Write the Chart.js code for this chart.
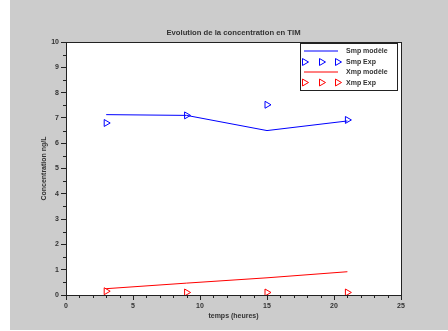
<!DOCTYPE html>
<html>
<head>
<meta charset="utf-8">
<script src="https://cdn.jsdelivr.net/npm/chart.js@4"></script>
<style>
  html, body { margin: 0; padding: 0; background: #fff; }
  #wrap { width: 448px; height: 331px; }
</style>
</head>
<body>
<div id="wrap"><canvas id="chart" width="448" height="331"></canvas></div>
<script>
// data
const temps = [3, 9, 15, 21];
const smpModele = [7.13, 7.1, 6.5, 6.88];
const smpExp = [6.8, 7.1, 7.52, 6.92];
const xmpModele = [0.25, 0.47, 0.68, 0.92];
const xmpExp = [0.15, 0.1, 0.1, 0.1];
const xTicks = [0, 5, 10, 15, 20, 25];
const yTicks = [0, 1, 2, 3, 4, 5, 6, 7, 8, 9, 10];
const legendLabels = ["Smp modèle", "Smp Exp", "Xmp modèle", "Xmp Exp"];

const FONT = "Liberation Sans";
const TXT = "#333333";
const BLUE = "#0000ff";
const RED = "#ff0000";

function pts(ys) {
    return temps.map((t, i) => ({ x: t, y: ys[i] }));
}

function marker(ctx, color, x, y) {
    ctx.save();
    ctx.strokeStyle = color;
    ctx.fillStyle = "rgba(0,0,0,0)";
    ctx.lineWidth = 1;
    Chart.helpers.drawPoint(ctx, { pointStyle: "triangle", rotation: 90, radius: 4, borderWidth: 1 }, x, y);
    ctx.restore();
}

const frame = {
    id: "frame",
    beforeDraw(chart) {
        const ctx = chart.ctx, a = chart.chartArea;
        ctx.save();
        ctx.fillStyle = "#cccccc";
        ctx.fillRect(10, 0, 438, 330);
        ctx.fillStyle = "#ffffff";
        ctx.fillRect(a.left, a.top, a.right - a.left, a.bottom - a.top);
        ctx.restore();
    },
    afterDraw(chart) {
        const ctx = chart.ctx, a = chart.chartArea;
        const xs = chart.scales.x, ys = chart.scales.y;
        ctx.save();
        ctx.strokeStyle = "#222222";
        ctx.lineWidth = 1;
        ctx.strokeRect(Math.round(a.left) + 0.5, Math.round(a.top) + 0.5,
            Math.round(a.right - a.left), Math.round(a.bottom - a.top));
        // minor ticks
        ctx.beginPath();
        for (let v = 1; v < 25; v++) {
            if (v % 5 === 0) continue;
            const px = Math.round(xs.getPixelForValue(v)) + 0.5;
            ctx.moveTo(px, a.bottom);
            ctx.lineTo(px, a.bottom + 3);
        }
        for (let v = 0.5; v < 10; v += 1) {
            const py = Math.round(ys.getPixelForValue(v)) + 0.5;
            ctx.moveTo(a.left, py);
            ctx.lineTo(a.left - 3, py);
        }
        ctx.stroke();

        // legend
        const lx = 300, ly = 43, lw = 97, lh = 47;
        ctx.fillStyle = "#ffffff";
        ctx.fillRect(lx, ly, lw, lh);
        ctx.strokeStyle = "#222222";
        ctx.strokeRect(lx + 0.5, ly + 0.5, lw, lh);
        const rows = [51, 62, 72, 82.5];
        const colors = [BLUE, BLUE, RED, RED];
        ctx.font = "bold 7px '" + FONT + "'";
        ctx.textBaseline = "middle";
        ctx.textAlign = "left";
        rows.forEach((ry, i) => {
            if (i % 2 === 0) {
                ctx.beginPath();
                ctx.strokeStyle = colors[i];
                ctx.lineWidth = 1;
                ctx.moveTo(304, ry);
                ctx.lineTo(338, ry);
                ctx.stroke();
            } else {
                [304.5, 321.5, 337.5].forEach(mx => marker(ctx, colors[i], mx, ry));
            }
            ctx.fillStyle = TXT;
            ctx.fillText(legendLabels[i], 346, Math.round(ry) + 0.5);
        });
        ctx.restore();
    }
};

new Chart(document.getElementById("chart"), {
    type: "line",
    data: {
        datasets: [
            { label: legendLabels[0], data: pts(smpModele), borderColor: BLUE, borderWidth: 1, pointRadius: 0 },
            { label: legendLabels[1], data: pts(smpExp), showLine: false, borderColor: BLUE, backgroundColor: "transparent",
              pointStyle: "triangle", rotation: 90, pointRadius: 4, pointBorderWidth: 1 },
            { label: legendLabels[2], data: pts(xmpModele), borderColor: RED, borderWidth: 1, pointRadius: 0 },
            { label: legendLabels[3], data: pts(xmpExp), showLine: false, borderColor: RED, backgroundColor: "transparent",
              pointStyle: "triangle", rotation: 90, pointRadius: 4, pointBorderWidth: 1 }
        ]
    },
    options: {
        responsive: false,
        animation: false,
        events: [],
        layout: { padding: { left: 0, right: 47, top: 0, bottom: 0 } },
        plugins: {
            legend: { display: false },
            tooltip: { enabled: false },
            title: {
                display: true,
                fullSize: false,
                text: "Evolution de la concentration en TIM",
                color: TXT,
                font: { family: FONT, size: 7.7, weight: "bold" },
                padding: { top: 28.4, bottom: 4.4 }
            }
        },
        scales: {
            x: {
                type: "linear",
                min: 0, max: 25,
                afterBuildTicks: s => { s.ticks = xTicks.map(v => ({ value: v })); },
                afterFit: s => { s.height = 36; },
                grid: { drawOnChartArea: false, tickLength: 5, color: "#222222" },
                border: { color: "#222222", width: 1 },
                ticks: { color: TXT, padding: 2, maxRotation: 0, font: { family: FONT, size: 7, weight: "bold" } },
                title: { display: true, text: "temps (heures)", color: TXT, padding: { top: 0, bottom: 11 },
                         font: { family: FONT, size: 7, weight: "bold" } }
            },
            y: {
                min: 0, max: 10,
                afterBuildTicks: s => { s.ticks = yTicks.map(v => ({ value: v })); },
                afterFit: s => { s.width = 66; },
                grid: { drawOnChartArea: false, tickLength: 5, color: "#222222" },
                border: { color: "#222222", width: 1 },
                ticks: { color: TXT, padding: 2, font: { family: FONT, size: 7, weight: "bold" } },
                title: { display: true, text: "Concentration ng/L", color: TXT, padding: { top: 40, bottom: 0 },
                         font: { family: FONT, size: 7, weight: "bold" } }
            }
        }
    },
    plugins: [frame]
});
</script>
</body>
</html>
